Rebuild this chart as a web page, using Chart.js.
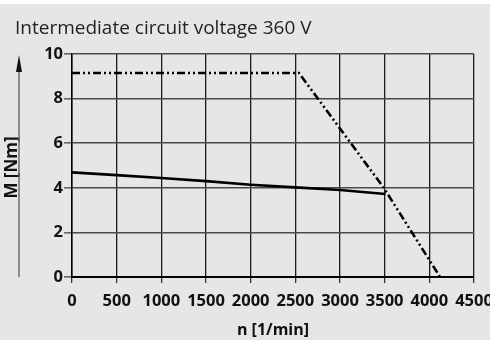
<!DOCTYPE html>
<html>
<head>
<meta charset="utf-8">
<script src="https://cdn.jsdelivr.net/npm/chart.js@4/dist/chart.umd.min.js"></script>
<style>
  html, body { margin: 0; padding: 0; background: #e6e6e6; }
  #wrap { width: 490px; height: 340px; position: relative; }
</style>
</head>
<body>
<div id="wrap"><canvas id="c"></canvas></div>
<script>
// ---- data ----
const titleText = "Intermediate circuit voltage 360 V";
const xTitle = "n [1/min]";
const yTitle = "M [Nm]";
const xTickLabels = [0, 500, 1000, 1500, 2000, 2500, 3000, 3500, 4000, 4500];
const yTickLabels = [0, 2, 4, 6, 8, 10];
const contSpeed = [0, 500, 1000, 1500, 2000, 2500, 3000, 3510];
const contTorque = [4.69, 4.57, 4.44, 4.30, 4.14, 4.02, 3.90, 3.72];
const peakSpeed = [0, 2540, 3490, 4120];
const peakTorque = [9.15, 9.15, 4.0, 0];

const toPts = (xs, ys) => xs.map((x, i) => ({ x: x, y: ys[i] }));

const FONT = "'Open Sans', 'Noto Sans', sans-serif";

const decor = {
  id: 'decor',
  beforeDraw(chart) {
    const ctx = chart.ctx;
    ctx.save();
    ctx.fillStyle = '#e6e6e6';
    ctx.fillRect(0, 0, chart.width, chart.height);
    ctx.fillStyle = '#ffffff';
    ctx.fillRect(0, 0, chart.width, 4);
    ctx.restore();
  },
  afterDraw(chart) {
    const ctx = chart.ctx;
    const a = chart.chartArea;
    ctx.save();
    // title
    ctx.fillStyle = '#222';
    ctx.font = "19px " + FONT;
    ctx.textAlign = 'left';
    ctx.textBaseline = 'alphabetic';
    ctx.fillText(titleText, 15, 34);
    // y title
    ctx.save();
    ctx.translate(12, (a.top + a.bottom) / 2 + 2);
    ctx.rotate(-Math.PI / 2);
    ctx.font = "bold 17px " + FONT;
    ctx.textAlign = 'center';
    ctx.textBaseline = 'middle';
    ctx.fillStyle = '#111';
    ctx.fillText(yTitle, 0, 0);
    ctx.restore();
    // x title
    ctx.font = "bold 16px " + FONT;
    ctx.textAlign = 'center';
    ctx.textBaseline = 'middle';
    ctx.fillStyle = '#111';
    ctx.fillText(xTitle, (a.left + a.right) / 2, 330);
    // arrow
    ctx.strokeStyle = '#6e6e6e';
    ctx.lineWidth = 1.5;
    ctx.beginPath();
    ctx.moveTo(19, a.bottom);
    ctx.lineTo(19, 66);
    ctx.stroke();
    ctx.fillStyle = '#111';
    ctx.beginPath();
    ctx.moveTo(19, 55);
    ctx.lineTo(22, 72);
    ctx.lineTo(16, 72);
    ctx.closePath();
    ctx.fill();
    ctx.restore();
  }
};

new Chart(document.getElementById('c'), {
  type: 'line',
  data: {
    datasets: [
      {
        data: toPts(contSpeed, contTorque),
        borderColor: '#000',
        borderWidth: 2.6,
        pointRadius: 0,
        tension: 0,
        fill: false
      },
      {
        data: toPts(peakSpeed, peakTorque),
        borderColor: '#000',
        borderWidth: 2.6,
        borderDash: [8, 3, 2, 3, 2, 3],
        pointRadius: 0,
        tension: 0,
        fill: false
      }
    ]
  },
  options: {
    responsive: true,
    maintainAspectRatio: false,
    animation: false,
    layout: { padding: { left: 0, right: 16, top: 54, bottom: 0 } },
    plugins: { legend: { display: false }, tooltip: { enabled: false }, title: { display: false } },
    scales: {
      x: {
        type: 'linear',
        min: 0, max: 4500,
        afterBuildTicks: s => { s.ticks = xTickLabels.map(v => ({ value: v })); },
        afterFit: s => { s.height = 63; s.paddingLeft = 0; s.paddingRight = 0; },
        ticks: { autoSkip: false, maxRotation: 0, padding: 8, color: '#111', callback: v => String(v), font: { family: FONT, size: 16.5, weight: 'bold' } },
        grid: { color: '#1c1c1c', lineWidth: 1.3, tickLength: 6, tickColor: '#333' },
        border: { color: '#000', width: 2 }
      },
      y: {
        min: 0, max: 10,
        afterBuildTicks: s => { s.ticks = yTickLabels.map(v => ({ value: v })); },
        afterFit: s => { s.width = 72; s.paddingTop = 0; s.paddingBottom = 0; },
        ticks: { padding: 1, color: '#111', callback: v => String(v), font: { family: FONT, size: 16.5, weight: 'bold' } },
        grid: { color: '#4a4a4a', lineWidth: 1.6, tickLength: 8, tickColor: '#666' },
        border: { color: '#000', width: 1.5 }
      }
    }
  },
  plugins: [decor]
});
</script>
</body>
</html>
